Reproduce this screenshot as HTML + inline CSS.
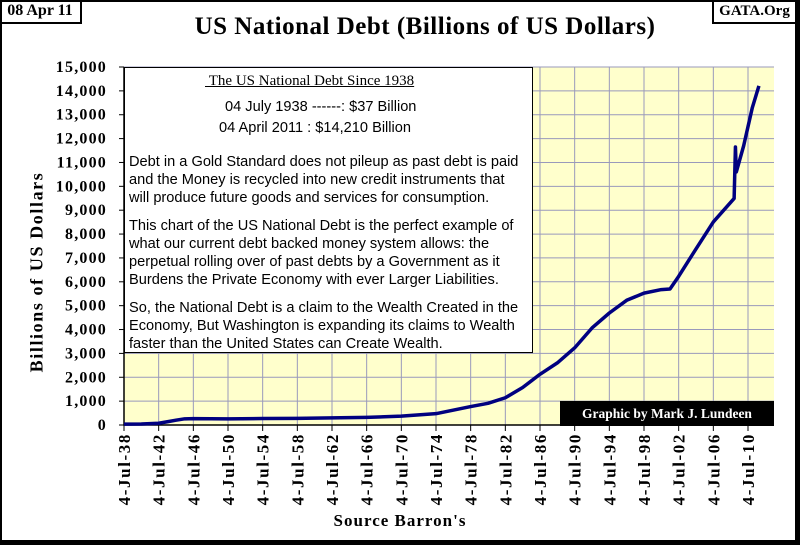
<!DOCTYPE html>
<html><head><meta charset="utf-8"><style>
body{margin:0;background:#fff;}
#root{position:relative;width:800px;height:545px;overflow:hidden;background:#fff;font-family:"Liberation Serif",serif;}
.abs{position:absolute;}
.box p{margin:0;position:absolute;left:4px;font-family:"Liberation Sans",sans-serif;font-size:14.6px;color:#000;white-space:nowrap;}
</style></head><body>
<div id="root">
<div class="abs" style="left:0;top:0;width:2px;height:545px;background:#000"></div>
<div class="abs" style="left:0;top:0;width:800px;height:2px;background:#000"></div>
<div class="abs" style="left:795px;top:0;width:5px;height:545px;background:#000"></div>
<div class="abs" style="left:0;top:540px;width:800px;height:5px;background:#000"></div>
<div class="abs" style="left:0;top:0;width:80px;height:22px;border:2px solid #000;border-top:none;border-left:none;font-weight:bold;font-size:16px;line-height:22px;text-align:center">08 Apr 11</div>
<div class="abs" style="left:712px;top:0;width:81px;height:22px;border:2px solid #000;border-top:none;border-right:none;font-weight:bold;font-size:15px;line-height:22px;text-align:center">GATA.Org</div>
<div class="abs" style="left:25px;top:13px;width:800px;text-align:center;font-weight:bold;font-size:25px;letter-spacing:0.5px">US National Debt (Billions of US Dollars)</div>
<svg class="abs" style="left:0;top:0" width="800" height="545" id="svg"></svg>
<div class="abs box" style="left:124px;top:67px;width:409px;height:286px;background:#fff;border:1.5px solid #000;box-sizing:border-box">
<p style="left:80px;top:5px;font-family:'Liberation Serif',serif;font-size:15px;text-decoration:underline">&nbsp;The US National Debt Since 1938</p>
<p style="left:100px;top:31px">04 July 1938 ------: $37 Billion</p>
<p style="left:94px;top:52px">04 April 2011 : $14,210 Billion</p>
<p style="top:86px">Debt in a Gold Standard does not pileup as past debt is paid</p>
<p style="top:104px">and the Money is recycled into new credit instruments that</p>
<p style="top:122px">will produce future goods and services for consumption.</p>
<p style="top:150px">This chart of the US National Debt is the perfect example of</p>
<p style="top:168px">what our current debt backed money system allows: the</p>
<p style="top:186px">perpetual rolling over of past debts by a Government as it</p>
<p style="top:204px">Burdens the Private Economy with ever Larger Liabilities.</p>
<p style="top:232px">So, the National Debt is a claim to the Wealth Created in the</p>
<p style="top:250px">Economy, But Washington is expanding its claims to Wealth</p>
<p style="top:268px">faster than the United States can Create Wealth.</p>
</div>
<div class="abs" style="left:560px;top:401px;width:214px;height:25px;background:#000;color:#fff;font-weight:bold;font-size:13.5px;line-height:25px;text-align:center">Graphic by Mark J. Lundeen</div>
<div class="abs" style="left:0;top:511px;width:800px;text-align:center;font-weight:bold;font-size:17px;letter-spacing:1px">Source Barron's</div>
<div class="abs" style="left:37px;top:272px;transform:translate(-50%,-50%) rotate(-90deg);white-space:nowrap;font-weight:bold;font-size:18px;letter-spacing:1.6px">Billions of US Dollars</div>
</div>
<script>
const years=[1938,1940,1942,1943,1944,1945,1946,1950,1954,1958,1962,1966,1970,1974,1978,1980,1982,1984,1986,1988,1990,1992,1994,1996,1998,2000,2001,2002,2004,2006,2008.4,2008.55,2008.65,2009.5,2010.5,2011.26];
const debt=[37,43,72,137,201,259,269,257,271,276,298,320,371,475,772,908,1142,1572,2125,2602,3233,4065,4693,5225,5526,5674,5700,6228,7379,8507,9492,11650,10600,11700,13300,14210];
const yTicks=[0,1000,2000,3000,4000,5000,6000,7000,8000,9000,10000,11000,12000,13000,14000,15000];
const xTickYears=[1938,1942,1946,1950,1954,1958,1962,1966,1970,1974,1978,1982,1986,1990,1994,1998,2002,2006,2010];
const xTickLabels=["4-Jul-38","4-Jul-42","4-Jul-46","4-Jul-50","4-Jul-54","4-Jul-58","4-Jul-62","4-Jul-66","4-Jul-70","4-Jul-74","4-Jul-78","4-Jul-82","4-Jul-86","4-Jul-90","4-Jul-94","4-Jul-98","4-Jul-02","4-Jul-06","4-Jul-10"];
const L=124,R=774,T=67,B=425,X0=1938,X1=2013,YMAX=15000;
const xs=v=>L+(v-X0)/(X1-X0)*(R-L);
const ys=v=>B-v/YMAX*(B-T);
const svg=document.getElementById('svg');const NS='http://www.w3.org/2000/svg';
function mk(t,a){const e=document.createElementNS(NS,t);for(const k in a)e.setAttribute(k,a[k]);svg.appendChild(e);return e;}
let e=mk('rect',{x:L,y:T,width:R-L,height:B-T,fill:'#ffffcc'});


yTicks.forEach((v,i)=>{
 let g=mk('line',{x1:L,x2:R,y1:ys(v),y2:ys(v),stroke:'#9999bb','stroke-width':1});
 
 
 let tk=mk('line',{x1:L-5,x2:L,y1:ys(v),y2:ys(v),stroke:'#000','stroke-width':1});
 
 
 let t=mk('text',{x:L-17,y:ys(v)+5,'text-anchor':'end','font-family':'Liberation Serif, serif','font-weight':'bold','font-size':'16','letter-spacing':'1.2'});
 t.textContent=v.toLocaleString('en-US');
 
 
});
xTickYears.forEach((v,i)=>{
 let g=mk('line',{x1:xs(v),x2:xs(v),y1:T,y2:B,stroke:'#9999bb','stroke-width':1});
 
 
 let tk=mk('line',{x1:xs(v),x2:xs(v),y1:B,y2:B+6,stroke:'#000','stroke-width':1});
 
 
 let t=mk('text',{x:0,y:0,'text-anchor':'end','font-family':'Liberation Serif, serif','font-weight':'bold','font-size':'17','letter-spacing':'1.6',transform:`translate(${xs(v)+6},${B+8}) rotate(-90)`});
 t.textContent=xTickLabels[i];
 
 
});
let ax=mk('path',{d:`M${L},${T}V${B}H${R}`,fill:'none',stroke:'#000','stroke-width':1.5});


let pl=mk('polyline',{points:years.map((y,i)=>xs(y)+','+ys(debt[i])).join(' '),fill:'none',stroke:'#000080','stroke-width':3.5,'stroke-linejoin':'round'});


</script>
</body></html>
